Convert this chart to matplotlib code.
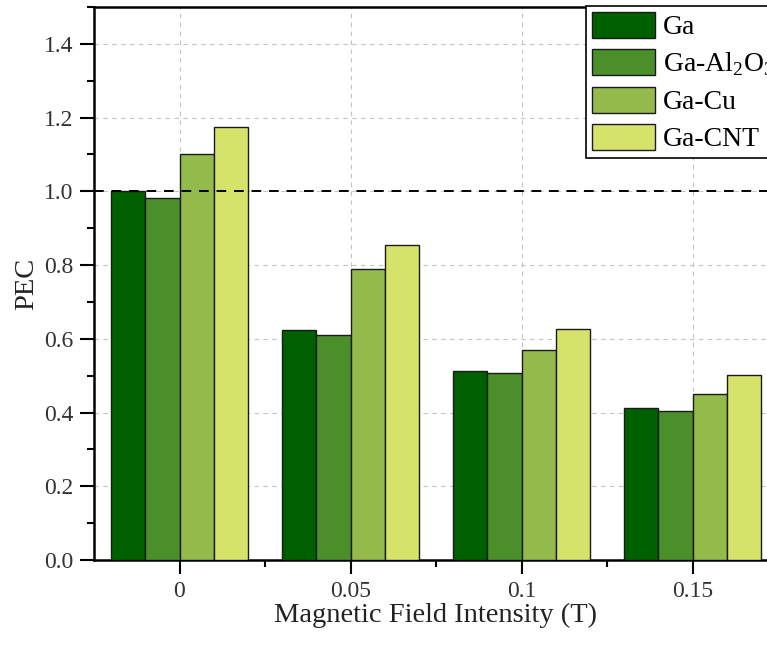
import numpy as np
import matplotlib
matplotlib.use("Agg")
import matplotlib.pyplot as plt
from matplotlib.ticker import MultipleLocator

plt.rcParams['font.family'] = ['Liberation Serif', 'DejaVu Serif']
plt.rcParams['mathtext.fontset'] = 'custom'
plt.rcParams['mathtext.rm'] = 'Liberation Serif'

fields = ['0', '0.05', '0.1', '0.15']
series = ['Ga', 'Ga-Al$_2$O$_3$', 'Ga-Cu', 'Ga-CNT']
ga = [1.00, 0.623, 0.514, 0.411]
ga_al2o3 = [0.983, 0.609, 0.508, 0.405]
ga_cu = [1.100, 0.790, 0.569, 0.451]
ga_cnt = [1.174, 0.855, 0.627, 0.501]
colors = ['#006000', '#4a8f2a', '#93ba4b', '#d6e36b']

fig = plt.figure(figsize=(7.67, 6.48), dpi=100)
ax = fig.add_axes([94 / 767, 88 / 648, 684 / 767, 553 / 648])

x = np.arange(len(fields))
w = 0.2
for i, (vals, c, lab) in enumerate(zip([ga, ga_al2o3, ga_cu, ga_cnt], colors, series)):
    ax.bar(x + (i - 1.5) * w, vals, w, color=c, edgecolor='#1a1a1a',
           linewidth=1.0, label=lab, zorder=3)

ax.axhline(1.0, color='black', linestyle=(0, (5, 4)), linewidth=1.4, zorder=4)

ax.set_xlim(-0.5, 3.5)
ax.set_ylim(0, 1.5)
ax.set_xticks(x)
ax.set_xticklabels(fields)
ax.set_xticks(x + 0.5, minor=True)
ax.yaxis.set_minor_locator(MultipleLocator(0.1))
yt = np.arange(0, 1.41, 0.2)
ax.set_yticks(yt)
ax.set_yticklabels([f'{v:.1f}' for v in yt])

ax.grid(True, which='major', color='#c4c4c4', linestyle=(0, (4, 4)), linewidth=0.8, zorder=0)
ax.tick_params(axis='both', which='major', direction='out', length=10, width=1.5,
               labelsize=17, pad=5, colors='black', labelcolor='#333333')
ax.tick_params(axis='both', which='minor', direction='out', length=5, width=1.5)
for s in ax.spines.values():
    s.set_linewidth(1.8)

ax.set_xlabel('Magnetic Field Intensity (T)', fontsize=20.5, color='#222222', labelpad=1)
ax.set_ylabel('PEC', fontsize=20.5, color='#222222', labelpad=3)

leg = ax.legend(loc='upper left', bbox_to_anchor=(586 / 767, 1 - 6 / 648),
                bbox_transform=fig.transFigure, fontsize=20, frameon=True,
                fancybox=False, edgecolor='black', framealpha=1,
                handlelength=2.27, handleheight=1.1, handletextpad=0.3,
                labelspacing=0.3, borderpad=0.2, borderaxespad=0)
leg.get_frame().set_linewidth(1.2)

fig.savefig('out.png', dpi=100)
